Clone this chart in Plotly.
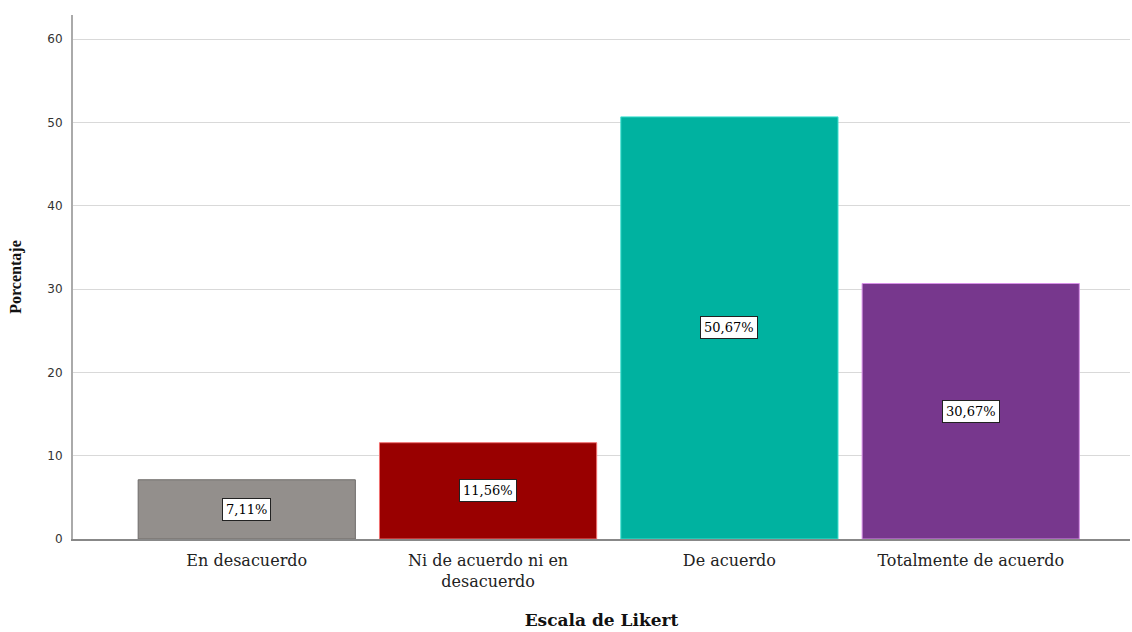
import plotly.graph_objects as go

categories = ["En desacuerdo", "Ni de acuerdo ni en<br>desacuerdo", "De acuerdo", "Totalmente de acuerdo"]
values = [7.11, 11.56, 50.67, 30.67]
labels = ["7,11%", "11,56%", "50,67%", "30,67%"]
colors = ["#938f8c", "#990000", "#00b2a0", "#77378d"]
edge_colors = ["#6e6b69", "#f07070", "#40e0d0", "#d890e8"]
y_ticks = [0, 10, 20, 30, 40, 50, 60]

fig = go.Figure()
fig.add_trace(go.Bar(
    x=list(range(len(categories))), y=values,
    marker=dict(color=colors, line=dict(color=edge_colors, width=1)),
    width=0.9, hoverinfo="skip",
))

for i, (v, t) in enumerate(zip(values, labels)):
    fig.add_annotation(x=i, y=v / 2, text=t, showarrow=False,
                       font=dict(family="DejaVu Serif", size=13, color="#000"),
                       bgcolor="white", bordercolor="#222", borderwidth=1, borderpad=3)

fig.update_layout(
    width=1132, height=632,
    margin=dict(l=73, r=2, t=15, b=93),
    plot_bgcolor="white", paper_bgcolor="white",
    showlegend=False,
    xaxis=dict(
        tickmode="array", tickvals=list(range(len(categories))), ticktext=categories,
        range=[-0.72, 3.66], showgrid=False, ticks="",
        showline=True, linecolor="#888", linewidth=2,
        ticklabelstandoff=6,
        tickfont=dict(family="DejaVu Serif", size=16, color="#222"),
        title=dict(text="<b>Escala de Likert</b>", standoff=24,
                   font=dict(family="DejaVu Serif", size=17, color="#111")),
    ),
    yaxis=dict(
        range=[0, 62.9], tickvals=y_ticks, ticks="outside", ticklen=6, tickcolor="white",
        showgrid=True, gridcolor="#d9d9d9", gridwidth=1,
        showline=True, linecolor="#aaa", linewidth=2, zeroline=False,
        tickfont=dict(family="DejaVu Sans", size=12, color="#333"),
        title=dict(text="<b>Porcentaje</b>", standoff=22,
                   font=dict(family="Liberation Serif", size=16, color="#111")),
    ),
)

fig.write_html("out.html")
